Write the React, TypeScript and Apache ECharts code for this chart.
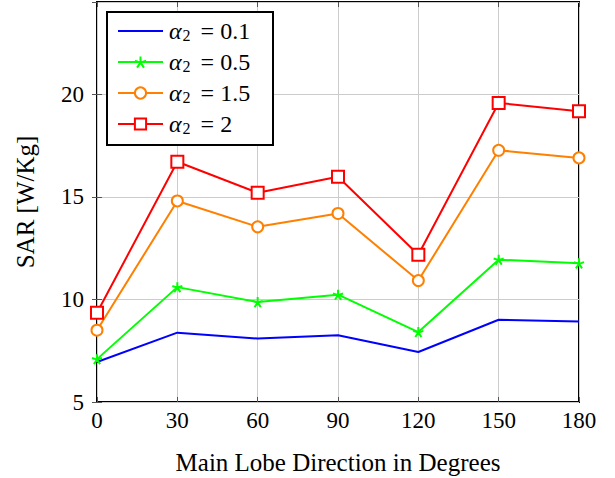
import React, { useEffect, useRef } from "react";
import * as echarts from "echarts";

const angles = [0, 30, 60, 90, 120, 150, 180];
const sarA01 = [6.95, 8.38, 8.09, 8.25, 7.44, 9.01, 8.93];
const sarA05 = [7.09, 10.6, 9.87, 10.23, 8.41, 11.94, 11.76];
const sarA15 = [8.5, 14.8, 13.54, 14.19, 10.92, 17.27, 16.9];
const sarA2 = [9.35, 16.71, 15.2, 15.98, 12.18, 19.58, 19.17];
const alphaValues = ["0.1", "0.5", "1.5", "2"];
const seriesNames = alphaValues.map((v) => "α₂ = " + v);
const xTicks = [0, 30, 60, 90, 120, 150, 180];
const yTicks = [5, 10, 15, 20];

const FONT = "'Liberation Serif', 'Times New Roman', serif";
const STAR = "path://M0 0 L0 -1 M0 0 L0.951 -0.309 M0 0 L0.588 0.809 M0 0 L-0.588 0.809 M0 0 L-0.951 -0.309";

export default function App() {
  const ref = useRef<HTMLDivElement>(null);
  useEffect(() => {
    if (!ref.current) return;
    const chart = echarts.init(ref.current, undefined, { renderer: "svg" });
    const pair = (ys: number[]) => angles.map((a, i) => [a, ys[i]]);
    const grid = { left: 97, top: 2, right: 36, bottom: 76 };
    const mk = (name: string, ys: number[], color: string, symbol: string, size: number) => ({
      type: "line",
      name,
      data: pair(ys),
      symbol,
      symbolSize: size,
      showSymbol: symbol !== "none",
      lineStyle: { color, width: 2 },
      itemStyle: { color: symbol === STAR ? color : "#fff", borderColor: color, borderWidth: 2 },
      emphasis: { disabled: true },
      z: 3,
    });
    const tickStyle = { show: true, inside: true, length: 5, lineStyle: { color: "#555", width: 1 } };
    chart.setOption({
      animation: false,
      grid: {
        ...grid,
        outerBoundsMode: "none",
        containLabel: false,
        show: true,
        borderColor: "#000",
        borderWidth: 2,
        backgroundColor: "transparent",
      },
      graphic: [
        {
          type: "rect",
          z: 20,
          shape: { x: 107, y: 12, width: 166, height: 133 },
          style: { fill: "#fff", stroke: "#000", lineWidth: 2 },
        },
      ],
      legend: {
        left: 117,
        top: 19,
        orient: "vertical",
        padding: 0,
        itemWidth: 45,
        itemHeight: 14,
        itemGap: 7,
        z: 30,
        data: seriesNames.map((n, i) =>
          i === 0 ? { name: n, itemStyle: { opacity: 0 } } : { name: n }
        ),
        formatter: (name: string) => {
          const i = seriesNames.indexOf(name);
          return "{a|α}{s|2}{e|=}{n|" + alphaValues[i] + "}";
        },
        textStyle: {
          fontFamily: FONT,
          color: "#000",
          lineHeight: 24,
          rich: {
            a: { fontFamily: FONT, fontSize: 24, fontStyle: "italic", color: "#000", lineHeight: 24, padding: [0, 0, 0, 1] },
            s: { fontFamily: FONT, fontSize: 16, color: "#000", lineHeight: 14, padding: [8, 0, 0, 1] },
            e: { fontFamily: FONT, fontSize: 24, color: "#000", lineHeight: 24, padding: [0, 6, 0, 10] },
            n: { fontFamily: FONT, fontSize: 24, color: "#000", lineHeight: 24 },
          },
        },
      },
      xAxis: [
        {
          type: "value",
          min: 0,
          max: 180,
          interval: 30,
          name: "Main Lobe Direction in Degrees",
          nameLocation: "middle",
          nameGap: 48,
          nameTextStyle: { fontFamily: FONT, fontSize: 25, color: "#000" },
          axisLine: { show: false },
          axisTick: tickStyle,
          axisLabel: {
            fontFamily: FONT,
            fontSize: 23,
            color: "#000",
            margin: 7,
            formatter: (v: number) => (xTicks.includes(v) ? String(v) : ""),
          },
          splitLine: { show: true, lineStyle: { color: "#cccccc", width: 1 } },
        },
        {
          type: "value",
          position: "top",
          min: 0,
          max: 180,
          interval: 30,
          axisLine: { show: false },
          axisTick: tickStyle,
          axisLabel: { show: false },
          splitLine: { show: false },
        },
      ],
      yAxis: [
        {
          type: "value",
          min: 5,
          max: 24.5,
          interval: 5,
          name: "SAR [W/Kg]",
          nameLocation: "middle",
          nameGap: 59,
          nameTextStyle: { fontFamily: FONT, fontSize: 25, color: "#000" },
          axisLine: { show: false },
          axisTick: tickStyle,
          axisLabel: {
            fontFamily: FONT,
            fontSize: 23,
            color: "#000",
            margin: 13,
            showMaxLabel: false,
            formatter: (v: number) => (yTicks.includes(v) ? String(v) : ""),
          },
          splitLine: { show: true, lineStyle: { color: "#cccccc", width: 1 } },
        },
        {
          type: "value",
          position: "right",
          min: 5,
          max: 24.5,
          interval: 5,
          axisLine: { show: false },
          axisTick: tickStyle,
          axisLabel: { show: false },
          splitLine: { show: false },
        },
      ],
      series: [
        mk(seriesNames[0], sarA01, "#0000ff", "none", 0),
        mk(seriesNames[1], sarA05, "#00ff00", STAR, 10),
        mk(seriesNames[2], sarA15, "#ff8000", "circle", 11),
        mk(seriesNames[3], sarA2, "#ff0000", "rect", 12),
      ],
    });
    return () => chart.dispose();
  }, []);
  return <div ref={ref} style={{ position: "absolute", left: 0, top: 0, width: 615, height: 478 }} />;
}
